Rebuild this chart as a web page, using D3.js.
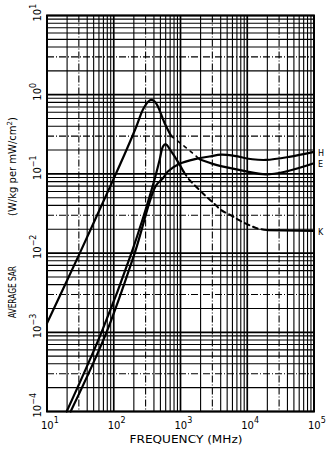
<!DOCTYPE html>
<html><head><meta charset="utf-8">
<script src="https://cdn.jsdelivr.net/npm/d3@7/dist/d3.min.js"></script>
<style>html,body{margin:0;padding:0;background:#fff;}svg{display:block;}</style>
</head><body>
<svg id="chart" width="330" height="450"></svg>
<script>
// ---- data ----
const xTickExps = [1, 2, 3, 4, 5];          // 10^1 .. 10^5 MHz
const yTickExps = [1, 0, -1, -2, -3, -4];   // 10^1 .. 10^-4 W/kg
const xTitle = "FREQUENCY (MHz)";
const yTitleA = "AVERAGE SAR";
const yTitleB = "(W/kg per mW/cm";

// E curve: solid rise + resonance, dashed fall, solid tail
const eFreq = [10, 31, 98, 155, 219, 274, 330, 366, 410, 458, 577, 726];
const eSar  = [0.0013, 0.010, 0.084, 0.20, 0.40, 0.65, 0.82, 0.86, 0.82, 0.71, 0.44, 0.30];
const eDashFreq = [726, 1070, 1510, 1923];
const eDashSar  = [0.30, 0.233, 0.184, 0.153];
const eTailFreq = [1923, 3410, 8510, 19000, 37800, 100000];
const eTailSar  = [0.153, 0.130, 0.110, 0.0986, 0.107, 0.136];

// H curve
const hFreq = [22.6, 77.9, 206, 424, 545, 646, 966, 1715, 2710, 4090, 6400, 11900, 19000, 42300, 100000];
const hSar  = [1e-4, 1e-3, 1e-2, 0.070, 0.088, 0.107, 0.134, 0.155, 0.166, 0.175, 0.169, 0.153, 0.150, 0.164, 0.19];

// K curve: solid rise + peak, dashed fall, solid tail
const kFreq = [19.7, 65.5, 184, 386, 486, 545, 597, 726, 912, 1110];
const kSar  = [1e-4, 1e-3, 1e-2, 0.072, 0.150, 0.221, 0.237, 0.192, 0.143, 0.107];
const kDashFreq = [1110, 1361, 1810, 2416, 3215, 4040, 5710, 7560, 10700, 14200, 20000];
const kDashSar  = [0.107, 0.084, 0.066, 0.052, 0.042, 0.035, 0.030, 0.026, 0.0226, 0.0205, 0.0195];
const kTailFreq = [20000, 100000];
const kTailSar  = [0.0195, 0.019];

const curveLabels = ["H", "E", "K"];
const curveLabelSar = [0.19, 0.136, 0.019];

// ---- drawing ----
const svg = d3.select("#chart");
const L = 47, R = 314, T = 15.5, B = 411.5;
const x = d3.scaleLog().domain([10, 1e5]).range([L, R]);
const y = d3.scaleLog().domain([1e-4, 10]).range([B, T]);
const font = "'DejaVu Sans', sans-serif";

const g = svg.append("g");

// grid
const mults = [2,3,4,5,6,7,8,9];
for (let e = 1; e < 5; e++) {
  mults.forEach(m => {
    const v = m * Math.pow(10, e);
    g.append("line").attr("x1", x(v)).attr("x2", x(v)).attr("y1", T).attr("y2", B)
      .attr("stroke", "#000").attr("stroke-width", 1.1)
      .attr("stroke-dasharray", m === 3 ? "7,2,1,2" : null);
  });
}
for (let e = -4; e < 1; e++) {
  mults.forEach(m => {
    const v = m * Math.pow(10, e);
    g.append("line").attr("y1", y(v)).attr("y2", y(v)).attr("x1", L).attr("x2", R)
      .attr("stroke", "#000").attr("stroke-width", 1.1)
      .attr("stroke-dasharray", m === 3 ? "7,2,1,2" : null);
  });
}
xTickExps.forEach(e => {
  g.append("line").attr("x1", x(Math.pow(10, e))).attr("x2", x(Math.pow(10, e)))
    .attr("y1", T).attr("y2", B).attr("stroke", "#000").attr("stroke-width", 1.7);
});
yTickExps.forEach(e => {
  g.append("line").attr("y1", y(Math.pow(10, e))).attr("y2", y(Math.pow(10, e)))
    .attr("x1", L).attr("x2", R).attr("stroke", "#000").attr("stroke-width", 1.7);
});
g.append("rect").attr("x", L).attr("y", T).attr("width", R - L).attr("height", B - T)
  .attr("fill", "none").attr("stroke", "#000").attr("stroke-width", 2);

// curves
const line = d3.line().x(d => x(d[0])).y(d => y(d[1])).curve(d3.curveCatmullRom.alpha(0.5));
const zip = (a, b) => a.map((v, i) => [v, b[i]]);
function draw(fr, sa, dash, w) {
  svg.append("path").attr("d", line(zip(fr, sa))).attr("fill", "none")
    .attr("stroke", "#000").attr("stroke-width", w || 2.2)
    .attr("stroke-linejoin", "round").attr("stroke-linecap", "round")
    .attr("stroke-dasharray", dash || null);
}
draw(eFreq, eSar);
draw(eDashFreq, eDashSar, "3,5", 1.6);
draw(eTailFreq, eTailSar);
draw(hFreq, hSar);
draw(kFreq, kSar);
draw(kDashFreq, kDashSar, "5,4", 2);
draw(kTailFreq, kTailSar);

// curve labels
curveLabels.forEach((t, i) => {
  svg.append("text").attr("x", 318).attr("y", y(curveLabelSar[i]) + 4)
    .attr("font-family", font).attr("font-size", 8).text(t);
});

// x tick labels
xTickExps.forEach(e => {
  const t = svg.append("text").attr("x", x(Math.pow(10, e)) - 6).attr("y", 429)
    .attr("font-family", font).attr("font-size", 10);
  t.append("tspan").text("10");
  t.append("tspan").attr("dy", -6).attr("font-size", 8).text(String(e));
});
// y tick labels (rotated)
yTickExps.forEach(e => {
  const t = svg.append("text")
    .attr("transform", `translate(41,${y(Math.pow(10, e)) + 6}) rotate(-90)`)
    .attr("font-family", font).attr("font-size", 10);
  t.append("tspan").text("10");
  t.append("tspan").attr("dy", -5).attr("font-size", 8).text(e < 0 ? "\u2212" + (-e) : String(e));
});

// titles
svg.append("text").attr("x", 186).attr("y", 443).attr("text-anchor", "middle")
  .attr("font-family", font).attr("font-size", 10.5)
  .attr("textLength", 113).attr("lengthAdjust", "spacingAndGlyphs").text(xTitle);
svg.append("text").attr("transform", "translate(15.5,292) rotate(-90)")
  .attr("text-anchor", "middle").attr("font-family", font).attr("font-size", 10.5)
  .attr("textLength", 52).attr("lengthAdjust", "spacingAndGlyphs").text(yTitleA);
const yt = svg.append("text").attr("transform", "translate(15.5,166.5) rotate(-90)")
  .attr("text-anchor", "middle").attr("font-family", font).attr("font-size", 10);
yt.append("tspan").text(yTitleB);
yt.append("tspan").attr("dy", -4).attr("font-size", 7).text("2");
yt.append("tspan").attr("dy", 4).text(")");
</script>
</body></html>
